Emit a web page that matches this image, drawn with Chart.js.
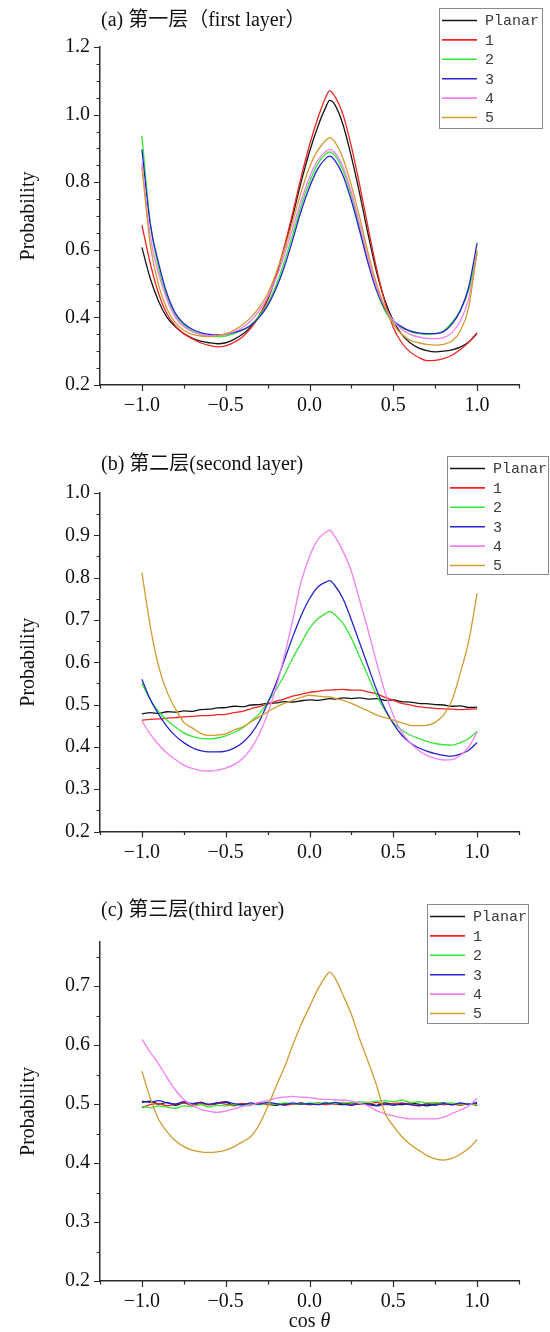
<!DOCTYPE html>
<html>
<head>
<meta charset="utf-8">
<script src="https://cdn.jsdelivr.net/npm/chart.js@4.4.1/dist/chart.umd.min.js"></script>
<style>
  html, body { margin: 0; padding: 0; background: #ffffff; }
  body { width: 550px; height: 1332px; position: relative; overflow: hidden; }
  .panel { position: absolute; left: 0; width: 550px; }
  canvas { display: block; }
</style>
</head>
<body>
<div class="panel" style="top:0px;height:440px"><canvas id="chartA" width="550" height="440"></canvas></div>
<div class="panel" style="top:440px;height:440px"><canvas id="chartB" width="550" height="440"></canvas></div>
<div class="panel" style="top:880px;height:452px"><canvas id="chartC" width="550" height="452"></canvas></div>
<script>
// cos(theta) sample positions shared by all layers
const cosTheta = [
  -1.00, -0.95, -0.90, -0.85, -0.80, -0.75, -0.70, -0.65, -0.60, -0.55,
  -0.50, -0.45, -0.40, -0.35, -0.30, -0.25, -0.20, -0.15, -0.10, -0.05,
   0.00,  0.05,  0.10,  0.12,
   0.15,  0.20,  0.25,  0.30,  0.35,  0.40,  0.45,  0.50,  0.55,  0.60,
   0.65,  0.70,  0.75,  0.80,  0.85,  0.90,  0.95,  1.00
];

const seriesNames = ['Planar', '1', '2', '3', '4', '5'];
const seriesColors = ['#151515', '#ee2424', '#34e834', '#2424cc', '#f47ef4', '#d29b30'];

// first layer
const layer1Planar = [
  0.607, 0.515, 0.447, 0.400, 0.372, 0.352, 0.339, 0.330, 0.325, 0.322,
  0.325, 0.335, 0.350, 0.372, 0.405, 0.452, 0.520, 0.605, 0.700, 0.800,
  0.890, 0.965, 1.025, 1.042,
  1.030, 0.970, 0.875, 0.765, 0.645, 0.535, 0.450, 0.390, 0.350, 0.325,
  0.310, 0.302, 0.298, 0.300, 0.304, 0.312, 0.327, 0.352
];
const layer1Type1 = [
  0.673, 0.560, 0.470, 0.410, 0.375, 0.352, 0.337, 0.325, 0.317, 0.313,
  0.316, 0.326, 0.342, 0.368, 0.405, 0.455, 0.525, 0.610, 0.710, 0.815,
  0.910, 0.990, 1.055, 1.070,
  1.055, 1.000, 0.905, 0.790, 0.665, 0.545, 0.445, 0.370, 0.325, 0.298,
  0.282, 0.272, 0.273, 0.278, 0.288, 0.305, 0.326, 0.355
];
const layer1Type2 = [
  0.937, 0.680, 0.545, 0.460, 0.405, 0.377, 0.360, 0.350, 0.345, 0.343,
  0.345, 0.352, 0.362, 0.378, 0.405, 0.440, 0.495, 0.565, 0.645, 0.730,
  0.800, 0.855, 0.885, 0.890,
  0.880, 0.835, 0.760, 0.665, 0.565, 0.480, 0.420, 0.385, 0.370, 0.358,
  0.352, 0.350, 0.352, 0.360, 0.385, 0.420, 0.480, 0.590
];
const layer1Type3 = [
  0.897, 0.675, 0.560, 0.470, 0.412, 0.382, 0.365, 0.355, 0.350, 0.348,
  0.350, 0.355, 0.363, 0.376, 0.400, 0.435, 0.485, 0.550, 0.630, 0.715,
  0.785, 0.840, 0.872, 0.877,
  0.865, 0.820, 0.745, 0.655, 0.560, 0.480, 0.425, 0.390, 0.372, 0.360,
  0.354, 0.352, 0.352, 0.358, 0.380, 0.420, 0.490, 0.620
];
const layer1Type4 = [
  0.858, 0.640, 0.528, 0.452, 0.400, 0.372, 0.358, 0.350, 0.346, 0.346,
  0.350, 0.358, 0.370, 0.390, 0.420, 0.460, 0.515, 0.585, 0.665, 0.745,
  0.815, 0.865, 0.892, 0.897,
  0.888, 0.845, 0.770, 0.675, 0.575, 0.490, 0.430, 0.390, 0.365, 0.350,
  0.342, 0.338, 0.337, 0.340, 0.355, 0.390, 0.455, 0.590
];
const layer1Type5 = [
  0.845, 0.615, 0.495, 0.425, 0.384, 0.362, 0.350, 0.345, 0.343, 0.346,
  0.352, 0.362, 0.378, 0.400, 0.430, 0.470, 0.530, 0.600, 0.685, 0.770,
  0.845, 0.895, 0.925, 0.932,
  0.920, 0.870, 0.790, 0.695, 0.590, 0.500, 0.430, 0.380, 0.350, 0.333,
  0.325, 0.320, 0.318, 0.320, 0.330, 0.360, 0.430, 0.600
];

// second layer
const layer2Planar = [
  0.478, 0.481, 0.479, 0.483, 0.482, 0.485, 0.484, 0.488, 0.489, 0.492,
  0.493, 0.496, 0.495, 0.499, 0.500, 0.503, 0.504, 0.507, 0.506, 0.509,
  0.511, 0.510, 0.513, 0.514,
  0.513, 0.516, 0.514, 0.516, 0.513, 0.514, 0.510, 0.511, 0.507, 0.506,
  0.503, 0.502, 0.500, 0.499, 0.496, 0.497, 0.493, 0.494
];
const layer2Type1 = [
  0.463, 0.465, 0.466, 0.468, 0.469, 0.471, 0.472, 0.474, 0.474, 0.476,
  0.477, 0.481, 0.484, 0.490, 0.495, 0.501, 0.508, 0.513, 0.520, 0.524,
  0.529, 0.531, 0.534, 0.534,
  0.535, 0.536, 0.534, 0.534, 0.530, 0.525, 0.517, 0.510, 0.503, 0.499,
  0.495, 0.493, 0.491, 0.490, 0.489, 0.488, 0.489, 0.490
];
const layer2Type2 = [
  0.550, 0.512, 0.483, 0.463, 0.447, 0.433, 0.425, 0.420, 0.419, 0.421,
  0.426, 0.434, 0.445, 0.460, 0.478, 0.505, 0.535, 0.570, 0.610, 0.645,
  0.680, 0.703, 0.716, 0.720,
  0.713, 0.692, 0.657, 0.612, 0.567, 0.522, 0.487, 0.457, 0.440, 0.428,
  0.420, 0.413, 0.408, 0.405, 0.404, 0.410, 0.420, 0.437
];
const layer2Type3 = [
  0.560, 0.512, 0.477, 0.448, 0.426, 0.410, 0.398, 0.391, 0.388, 0.388,
  0.390, 0.397, 0.410, 0.430, 0.460, 0.503, 0.550, 0.605, 0.660, 0.710,
  0.750, 0.778, 0.790, 0.793,
  0.782, 0.750, 0.700, 0.645, 0.590, 0.535, 0.490, 0.455, 0.428, 0.410,
  0.398, 0.390, 0.384, 0.380, 0.378, 0.383, 0.392, 0.410
];
const layer2Type4 = [
  0.461, 0.430, 0.405, 0.385, 0.370, 0.357, 0.349, 0.344, 0.343, 0.345,
  0.350, 0.358, 0.372, 0.395, 0.430, 0.478, 0.540, 0.615, 0.700, 0.790,
  0.850, 0.890, 0.908, 0.912,
  0.898, 0.862, 0.815, 0.745, 0.675, 0.600, 0.530, 0.475, 0.435, 0.410,
  0.392, 0.380, 0.373, 0.369, 0.370, 0.380, 0.400, 0.435
];
const layer2Type5 = [
  0.812, 0.685, 0.590, 0.530, 0.490, 0.458, 0.445, 0.432, 0.427, 0.428,
  0.431, 0.440, 0.447, 0.459, 0.471, 0.483, 0.494, 0.503, 0.510, 0.517,
  0.522, 0.520, 0.518, 0.518,
  0.515, 0.510, 0.503, 0.494, 0.485, 0.475, 0.469, 0.463, 0.457, 0.451,
  0.450, 0.451, 0.458, 0.475, 0.510, 0.575, 0.650, 0.763
];

// third layer
const layer3Planar = [
  0.503, 0.505, 0.500, 0.503, 0.498, 0.502, 0.500, 0.503, 0.499, 0.501,
  0.503, 0.498, 0.501, 0.499, 0.502, 0.500, 0.498, 0.501, 0.500, 0.502,
  0.499, 0.501, 0.500, 0.502,
  0.501, 0.499, 0.502, 0.500, 0.501, 0.498, 0.502, 0.500, 0.499, 0.502,
  0.500, 0.497, 0.500, 0.502, 0.499, 0.501, 0.500, 0.501
];
const layer3Type1 = [
  0.494, 0.499, 0.501, 0.497, 0.500, 0.502, 0.498, 0.501, 0.499, 0.502,
  0.500, 0.497, 0.501, 0.500, 0.502, 0.499, 0.501, 0.498, 0.500, 0.501,
  0.500, 0.502, 0.499, 0.501,
  0.500, 0.502, 0.499, 0.501, 0.500, 0.503, 0.499, 0.501, 0.502, 0.500,
  0.498, 0.501, 0.502, 0.499, 0.500, 0.498, 0.501, 0.497
];
const layer3Type2 = [
  0.496, 0.494, 0.497, 0.495, 0.493, 0.497, 0.496, 0.499, 0.495, 0.498,
  0.497, 0.499, 0.498, 0.500, 0.499, 0.501, 0.500, 0.502, 0.501, 0.500,
  0.502, 0.501, 0.503, 0.502,
  0.501, 0.503, 0.502, 0.504, 0.503, 0.505, 0.506, 0.504, 0.507, 0.503,
  0.504, 0.502, 0.503, 0.501, 0.502, 0.500, 0.501, 0.499
];
const layer3Type3 = [
  0.505, 0.503, 0.506, 0.502, 0.500, 0.504, 0.501, 0.503, 0.500, 0.502,
  0.504, 0.501, 0.499, 0.502, 0.500, 0.503, 0.501, 0.499, 0.502, 0.500,
  0.501, 0.499, 0.502, 0.500,
  0.503, 0.500, 0.498, 0.501, 0.499, 0.497, 0.500, 0.498, 0.501, 0.499,
  0.497, 0.500, 0.498, 0.501, 0.499, 0.502, 0.500, 0.503
];
const layer3Type4 = [
  0.610, 0.588, 0.568, 0.545, 0.524, 0.508, 0.498, 0.491, 0.488, 0.486,
  0.488, 0.492, 0.496, 0.498, 0.503, 0.506, 0.510, 0.512, 0.513, 0.512,
  0.511, 0.509, 0.508, 0.508,
  0.507, 0.507, 0.505, 0.501, 0.497, 0.489, 0.484, 0.480, 0.477, 0.475,
  0.475, 0.475, 0.475, 0.478, 0.484, 0.490, 0.497, 0.510
];
const layer3Type5 = [
  0.556, 0.510, 0.474, 0.453, 0.438, 0.428, 0.422, 0.419, 0.418, 0.419,
  0.422, 0.428, 0.436, 0.445, 0.465, 0.495, 0.530, 0.562, 0.600, 0.635,
  0.665, 0.695, 0.718, 0.724,
  0.715, 0.685, 0.652, 0.610, 0.572, 0.532, 0.485, 0.463, 0.445, 0.432,
  0.422, 0.413, 0.407, 0.405, 0.408, 0.415, 0.425, 0.440
];

const SERIF = '"Liberation Serif", "Times New Roman", serif';
const TITLE_FONT = '20px "Liberation Serif", "Noto Sans CJK SC", serif';
const AXIS_COLOR = '#2b2b2b';

const panels = [
  {
    id: 'chartA', height: 440, title: '(a) 第一层（first layer）', titleY: 21,
    yMin: 0.2, yMax: 1.2, labelStep: 0.2, areaTop: 47, areaBottom: 385,
    legend: { x: 439, y: 8, w: 103, h: 120 },
    series: [layer1Planar, layer1Type1, layer1Type2, layer1Type3, layer1Type4, layer1Type5],
    xTitle: false
  },
  {
    id: 'chartB', height: 440, title: '(b) 第二层(second layer)', titleY: 25,
    yMin: 0.2, yMax: 1.0, labelStep: 0.1, areaTop: 53, areaBottom: 391.5,
    legend: { x: 447, y: 16, w: 101, h: 118 },
    series: [layer2Planar, layer2Type1, layer2Type2, layer2Type3, layer2Type4, layer2Type5],
    xTitle: false
  },
  {
    id: 'chartC', height: 452, title: '(c) 第三层(third layer)', titleY: 31,
    yMin: 0.2, yMax: 0.775, labelStep: 0.1, areaTop: 62, areaBottom: 401,
    legend: { x: 427, y: 24, w: 101, h: 119 },
    series: [layer3Planar, layer3Type1, layer3Type2, layer3Type3, layer3Type4, layer3Type5],
    xTitle: true
  }
];

function isMultiple(v, step) {
  return Math.abs(Math.round(v / step) * step - v) < 1e-6;
}

function formatSigned(v) {
  if (Math.abs(v) < 1e-9) return '0.0';
  return (v < 0 ? '\u2212' : '') + Math.abs(v).toFixed(1);
}

// Ticks, titles and the boxed legend drawn on top of the chart
const decorations = {
  id: 'decorations',
  afterDraw(chart, args, opts) {
    const ctx = chart.ctx;
    const xs = chart.scales.x;
    const ys = chart.scales.y;
    const area = chart.chartArea;
    ctx.save();

    // outward tick marks
    ctx.strokeStyle = AXIS_COLOR;
    ctx.lineWidth = 1.2;
    ctx.beginPath();
    xs.ticks.forEach(t => {
      const px = Math.round(xs.getPixelForValue(t.value)) + 0.5;
      const len = t.label !== '' ? 6 : 3.5;
      ctx.moveTo(px, area.bottom);
      ctx.lineTo(px, area.bottom + len);
    });
    ys.ticks.forEach(t => {
      const py = Math.round(ys.getPixelForValue(t.value)) + 0.5;
      const len = t.label !== '' ? 6 : 3.5;
      ctx.moveTo(area.left, py);
      ctx.lineTo(area.left - len, py);
    });
    ctx.stroke();

    // panel title
    ctx.fillStyle = '#111';
    ctx.font = TITLE_FONT;
    ctx.textBaseline = 'middle';
    ctx.textAlign = 'left';
    ctx.fillText(opts.title, 101, opts.titleY);

    // y-axis title
    ctx.save();
    ctx.translate(28.5, (area.top + area.bottom) / 2);
    ctx.rotate(-Math.PI / 2);
    ctx.textAlign = 'center';
    ctx.font = '20px ' + SERIF;
    ctx.fillText('Probability', 0, 0);
    ctx.restore();

    // x-axis title with italic theta
    if (opts.xTitle) {
      const partA = 'cos ';
      const partB = '\u03b8';
      ctx.font = '20px ' + SERIF;
      const wA = ctx.measureText(partA).width;
      ctx.font = 'italic 20px ' + SERIF;
      const wB = ctx.measureText(partB).width;
      const startX = xs.getPixelForValue(0) - (wA + wB) / 2;
      const ty = chart.height - 10;
      ctx.textAlign = 'left';
      ctx.font = '20px ' + SERIF;
      ctx.fillText(partA, startX, ty);
      ctx.font = 'italic 20px ' + SERIF;
      ctx.fillText(partB, startX + wA, ty);
    }

    // legend box
    const lg = opts.legend;
    ctx.strokeStyle = '#8a8a8a';
    ctx.lineWidth = 1;
    ctx.strokeRect(lg.x + 0.5, lg.y + 0.5, lg.w, lg.h);
    ctx.font = '15px "Liberation Mono", "DejaVu Sans Mono", monospace';
    ctx.textAlign = 'left';
    ctx.textBaseline = 'middle';
    chart.data.datasets.forEach((ds, i) => {
      const cy = lg.y + 12.5 + i * 19.4;
      ctx.strokeStyle = ds.borderColor;
      ctx.lineWidth = 1.6;
      ctx.beginPath();
      ctx.moveTo(lg.x + 3, cy);
      ctx.lineTo(lg.x + 38, cy);
      ctx.stroke();
      ctx.fillStyle = '#3a3a3a';
      ctx.fillText(ds.label, lg.x + 46, cy + 1);
    });

    ctx.restore();
  }
};

panels.forEach(p => {
  const datasets = p.series.map((vals, i) => ({
    label: seriesNames[i],
    data: cosTheta.map((c, k) => ({ x: c, y: vals[k] })),
    borderColor: seriesColors[i],
    backgroundColor: seriesColors[i],
    borderWidth: 1.3,
    pointRadius: 0,
    fill: false,
    cubicInterpolationMode: 'monotone',
    order: seriesNames.length - i
  }));

  new Chart(document.getElementById(p.id), {
    type: 'line',
    data: { datasets },
    plugins: [decorations],
    options: {
      responsive: false,
      animation: false,
      devicePixelRatio: 1,
      layout: { padding: { top: p.areaTop, right: 31, bottom: 0, left: 0 } },
      plugins: {
        legend: { display: false },
        tooltip: { enabled: false },
        decorations: {
          title: p.title, titleY: p.titleY, legend: p.legend, xTitle: p.xTitle
        }
      },
      scales: {
        x: {
          type: 'linear',
          min: -1.25,
          max: 1.25,
          afterFit: s => { s.height = p.height - p.areaBottom; },
          border: { display: true, color: AXIS_COLOR, width: 1.5 },
          grid: { display: false, drawTicks: false },
          ticks: {
            stepSize: 0.25,
            autoSkip: false,
            maxRotation: 0,
            padding: 9,
            color: '#111',
            font: { family: SERIF, size: 20 },
            callback: v => (isMultiple(v, 0.5) && Math.abs(v) <= 1.0001) ? formatSigned(v) : ''
          }
        },
        y: {
          type: 'linear',
          min: p.yMin,
          max: p.yMax,
          afterFit: s => { s.width = 100; },
          border: { display: true, color: AXIS_COLOR, width: 1.5 },
          grid: { display: false, drawTicks: false },
          ticks: {
            stepSize: 0.05,
            includeBounds: false,
            autoSkip: false,
            padding: 10,
            color: '#111',
            font: { family: SERIF, size: 20 },
            callback: v => isMultiple(v, p.labelStep) ? Number(v).toFixed(1) : ''
          }
        }
      }
    }
  });
});
</script>
</body>
</html>
